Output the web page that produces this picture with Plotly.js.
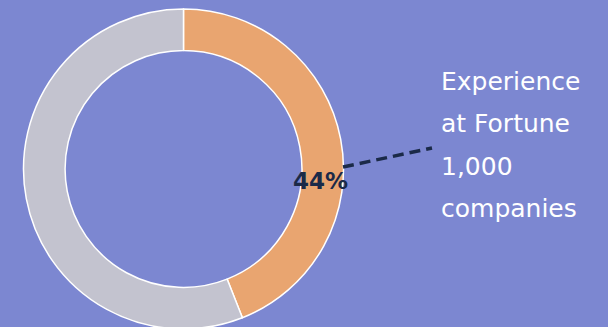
<!DOCTYPE html>
<html><head><meta charset="utf-8">
<script src="https://cdn.plot.ly/plotly-3.0.1.min.js"></script>
<style>html,body{margin:0;padding:0;overflow:hidden;background:#7C87D1;}#chart{width:608px;height:329px;}</style>
</head><body><div id="chart"></div>
<script>
const categories = ["Experience at Fortune 1,000 companies", "Other"];
const values = [44, 56];
const sliceColors = ["#E9A570", "#C3C3CF"];
const centerLabel = "44%";
const calloutLines = ["Experience", "at Fortune", "1,000", "companies"];

const W = 608, H = 329;
const px = x => x / W, py = y => 1 - y / H;

const annotations = [{
  text: "<b>" + centerLabel + "</b>", xref: "paper", yref: "paper",
  x: px(320), y: py(181), xanchor: "center", yanchor: "middle", showarrow: false,
  font: {family: "DejaVu Sans", size: 23, color: "#1B2A48"}
}];
calloutLines.forEach((t, i) => annotations.push({
  text: t, xref: "paper", yref: "paper", x: px(439), y: py(81 + i * 42.5),
  xanchor: "left", yanchor: "middle", showarrow: false,
  font: {family: "DejaVu Sans", size: 25, color: "#FFFFFF"}
}));

Plotly.newPlot("chart", [{
  type: "pie", labels: categories, values: values, hole: 0.74,
  sort: false, direction: "clockwise", rotation: 0,
  marker: {colors: sliceColors, line: {color: "#FFFFFF", width: 1.5}},
  textinfo: "none", hoverinfo: "label+percent",
  domain: {x: [23.5 / W, 343.5 / W], y: [0, 320 / H]}
}], {
  width: W, height: H, margin: {l: 0, r: 0, t: 0, b: 0},
  paper_bgcolor: "#7C87D1", plot_bgcolor: "#7C87D1", showlegend: false,
  annotations: annotations,
  shapes: [{type: "line", xref: "paper", yref: "paper",
    x0: px(343), y0: py(167), x1: px(432), y1: py(148),
    line: {color: "#1B2A48", width: 3.5, dash: "11px,6px"}}]
}, {displayModeBar: false, staticPlot: true});
</script></body></html>
